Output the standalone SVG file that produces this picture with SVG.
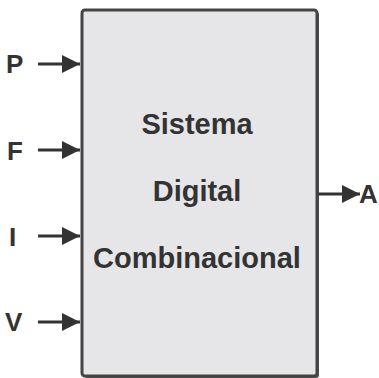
<svg xmlns="http://www.w3.org/2000/svg" width="379" height="378" viewBox="0 0 379 378">
  <style>
    .lbl { font-family: "Liberation Sans", Arial, sans-serif; font-weight: bold; fill: #333; }
    .pin { font-size: 26px; }
    .title { font-size: 29px; text-anchor: middle; }
    .wire { stroke: #333; stroke-width: 3; fill: none; }
  </style>
  <defs>
    <marker id="head" viewBox="0 0 10 10" refX="10" refY="5" markerWidth="6" markerHeight="6" markerUnits="strokeWidth" orient="auto">
      <path d="M0,0 L10,5 L0,10 Z" fill="#333"/>
    </marker>
  </defs>
  <g id="block">
    <rect x="84" y="12" width="235" height="366" rx="3" fill="#555"/>
    <rect x="82" y="10" width="235" height="366" rx="3" fill="#e6e6e8" stroke="#444" stroke-width="3"/>
    <text class="lbl title" x="197" y="134">Sistema</text>
    <text class="lbl title" x="197" y="201">Digital</text>
    <text class="lbl title" x="197" y="268">Combinacional</text>
  </g>
  <g id="connectors">
    <line class="wire" x1="38" y1="64" x2="80" y2="64" marker-end="url(#head)"/>
    <line class="wire" x1="38" y1="150" x2="80" y2="150" marker-end="url(#head)"/>
    <line class="wire" x1="38" y1="236" x2="80" y2="236" marker-end="url(#head)"/>
    <line class="wire" x1="38" y1="322" x2="80" y2="322" marker-end="url(#head)"/>
    <line class="wire" x1="318" y1="194" x2="360" y2="194" marker-end="url(#head)"/>
  </g>
  <g id="inputs">
    <text class="lbl pin" x="6" y="73">P</text>
    <text class="lbl pin" x="7" y="160">F</text>
    <text class="lbl pin" x="9" y="246">I</text>
    <text class="lbl pin" x="5" y="331">V</text>
  </g>
  <g id="output">
    <text class="lbl pin" x="359" y="203">A</text>
  </g>
</svg>
